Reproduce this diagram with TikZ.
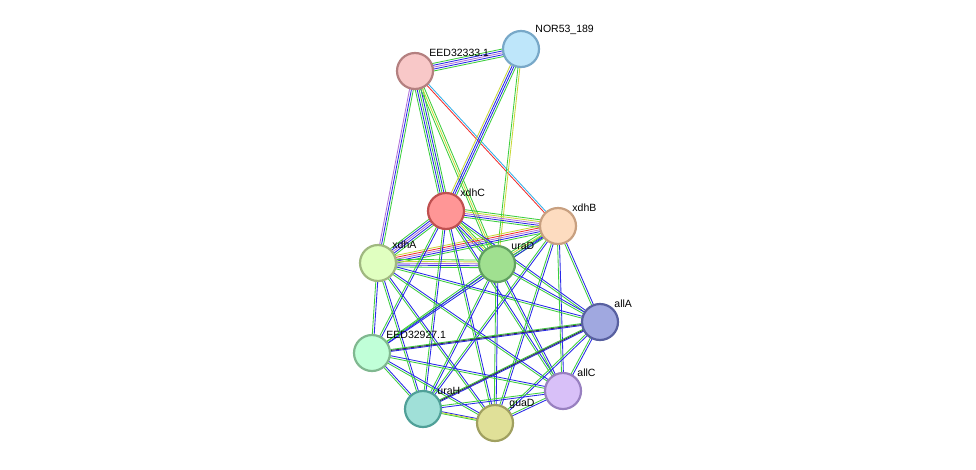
\documentclass[tikz,border=0pt]{standalone}
\usepackage{fontspec}
\setmainfont{Liberation Sans}
\usetikzlibrary{calc,backgrounds}
\definecolor{eg}{HTML}{3DCE3D}
\definecolor{eb}{HTML}{2828E8}
\definecolor{ey}{HTML}{C8D83A}
\definecolor{ep}{HTML}{B070D8}
\definecolor{el}{HTML}{33B0E8}
\definecolor{er}{HTML}{F03030}
\definecolor{ek}{HTML}{303050}
\newcommand\sedge[4]{%
  \foreach \c [count=\i] in {#4} {%
    \pgfmathsetmacro\o{(\i-(#3+1)/2)*1.9}%
    \draw[\c,line width=0.85pt] ($(#1)!\o pt!90:(#2)$) -- ($(#2)!\o pt!-90:(#1)$);
  }}
\begin{document}
\begin{tikzpicture}[x=1pt,y=-1pt,
  prot/.style={circle,minimum size=36pt,inner sep=0,line width=2.2pt},
  lbl/.style={font=\fontsize{10.5}{11}\selectfont,inner sep=0,label distance=1pt}]
\useasboundingbox (0,0) rectangle (976,469);
\node[prot,fill={rgb,255:red,190;green,230;blue,250},draw={rgb,255:red,120;green,168;blue,200},label={[lbl]45:NOR53\_189}] (nor) at (521,49) {};
\node[prot,fill={rgb,255:red,248;green,200;blue,200},draw={rgb,255:red,180;green,128;blue,128},label={[lbl]45:EED32333.1}] (e33) at (415,71) {};
\node[prot,fill={rgb,255:red,255;green,150;blue,150},draw={rgb,255:red,192;green,80;blue,80},label={[lbl]45:xdhC}] (xdhC) at (446,211) {};
\node[prot,fill={rgb,255:red,253;green,220;blue,192},draw={rgb,255:red,200;green,160;blue,128},label={[lbl]45:xdhB}] (xdhB) at (558,226) {};
\node[prot,fill={rgb,255:red,224;green,255;blue,192},draw={rgb,255:red,160;green,184;blue,128},label={[lbl]45:xdhA}] (xdhA) at (378,263) {};
\node[prot,fill={rgb,255:red,160;green,224;blue,144},draw={rgb,255:red,96;green,160;blue,96},label={[lbl]45:uraD}] (uraD) at (497,264) {};
\node[prot,fill={rgb,255:red,160;green,168;blue,224},draw={rgb,255:red,88;green,96;blue,160},label={[lbl]45:allA}] (allA) at (600,322) {};
\node[prot,fill={rgb,255:red,192;green,255;blue,216},draw={rgb,255:red,128;green,184;blue,144},label={[lbl]45:EED32927.1}] (e27) at (372,353) {};
\node[prot,fill={rgb,255:red,216;green,192;blue,248},draw={rgb,255:red,152;green,128;blue,192},label={[lbl]45:allC}] (allC) at (563,391) {};
\node[prot,fill={rgb,255:red,160;green,224;blue,216},draw={rgb,255:red,80;green,160;blue,152},label={[lbl]45:uraH}] (uraH) at (423,409) {};
\node[prot,fill={rgb,255:red,224;green,224;blue,152},draw={rgb,255:red,160;green,160;blue,96},label={[lbl]45:guaD}] (guaD) at (495,423) {};
\begin{scope}[on background layer]
\sedge{e33}{nor}{5}{eg,eb,ep,eb,eg}
\sedge{e33}{xdhC}{5}{eg,eb,eg,eb,eg}
\sedge{e33}{xdhA}{3}{ep,eb,eg}
\sedge{e33}{uraD}{3}{eg,ey,eg}
\sedge{e33}{xdhB}{2}{er,el}
\sedge{nor}{xdhC}{4}{ey,eb,eb,eg}
\sedge{nor}{uraD}{2}{eg,ey}
\sedge{xdhC}{xdhB}{5}{eg,eb,ep,ey,eg}
\sedge{xdhC}{xdhA}{5}{eg,eb,ep,eb,eg}
\sedge{xdhC}{uraD}{4}{eg,eb,ey,eg}
\sedge{xdhA}{xdhB}{5}{eg,eb,ep,er,ey}
\sedge{xdhA}{uraD}{5}{eg,eb,ep,ey,eg}
\sedge{uraD}{xdhB}{4}{eg,eb,ey,eg}
\foreach \a/\b in {xdhC/allA,xdhC/e27,xdhC/allC,xdhC/uraH,xdhC/guaD,
  xdhB/allA,xdhB/e27,xdhB/allC,xdhB/uraH,xdhB/guaD,
  xdhA/allA,xdhA/e27,xdhA/allC,xdhA/uraH,xdhA/guaD,
  uraD/allA,uraD/e27,uraD/allC,uraD/uraH,uraD/guaD,
  allA/e27,allA/allC,allA/uraH,allA/guaD,
  e27/allC,e27/uraH,e27/guaD,allC/uraH,allC/guaD,uraH/guaD}
  {\sedge{\a}{\b}{2}{eg,eb}}
\sedge{e27}{allA}{1}{ek}
\sedge{uraH}{allA}{1}{ek}
\sedge{uraH}{guaD}{1}{ey}
\end{scope}
\end{tikzpicture}
\end{document}
